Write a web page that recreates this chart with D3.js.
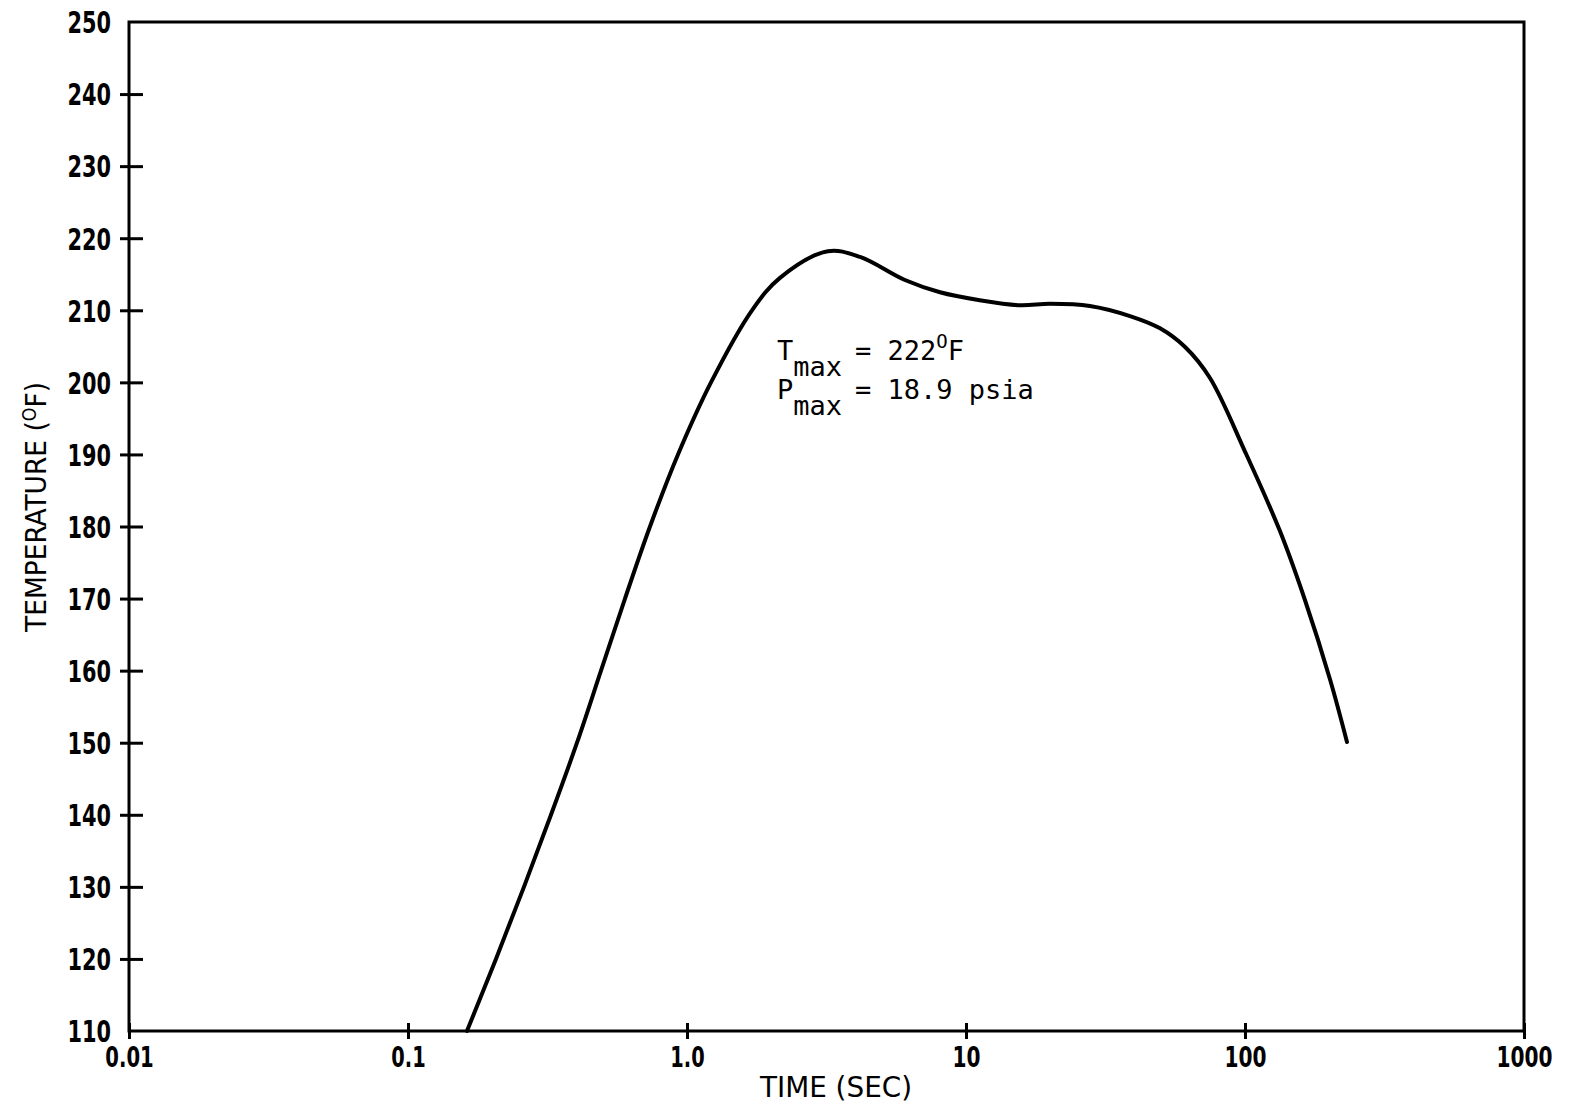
<!DOCTYPE html>
<html>
<head>
<meta charset="utf-8">
<script src="https://cdn.jsdelivr.net/npm/d3@7/dist/d3.min.js"></script>
<style>
  body { margin: 0; background: #fff; }
  svg text { fill: #000; }
</style>
</head>
<body>
<div id="chart"></div>
<script>
// Temperature history (time in seconds, temperature in deg F)
const timeSec = [0.1627, 0.2067, 0.2604, 0.3255, 0.4034, 0.4918, 0.5995, 0.7369, 0.9284, 1.219, 1.71, 2.154, 3.2, 4.17, 6.04, 8.07, 11.2, 15.6, 20.0, 27.8, 38.7, 49.6, 61.0, 74.9, 100, 133, 164, 202, 232];
const tempF   = [110, 120, 130, 140, 150, 160, 170, 180, 190, 200, 210, 214.5, 218.2, 217.4, 214.2, 212.5, 211.4, 210.7, 210.9, 210.6, 209.2, 207.5, 204.9, 200.6, 190.4, 179.5, 169.8, 158.7, 150.1];

const xTickValues = [0.01, 0.1, 1, 10, 100, 1000];
const xTickLabels = ['0.01', '0.1', '1.0', '10', '100', '1000'];
const yTickValues = [110, 120, 130, 140, 150, 160, 170, 180, 190, 200, 210, 220, 230, 240, 250];

const W = 1573, H = 1110;
const margin = { left: 129, top: 22, right: 49, bottom: 79 };
const innerW = W - margin.left - margin.right;
const innerH = H - margin.top - margin.bottom;

const tickFont = '"DejaVu Sans Condensed", "DejaVu Sans", sans-serif';
const monoFont = '"DejaVu Sans Mono", "Liberation Mono", monospace';

// narrow typewriter-like digits: squeeze text to a fixed width per character
const squeeze = (s, per) => s.replace('.', '').length * per + (s.includes('.') ? per * 0.45 : 0);

const svg = d3.select('#chart').append('svg')
  .attr('width', W).attr('height', H)
  .attr('viewBox', `0 0 ${W} ${H}`);

const g = svg.append('g').attr('transform', `translate(${margin.left},${margin.top})`);

const x = d3.scaleLog().domain([0.01, 1000]).range([0, innerW]);
const y = d3.scaleLinear().domain([110, 250]).range([innerH, 0]);

// Frame
g.append('rect')
  .attr('x', 0).attr('y', 0)
  .attr('width', innerW).attr('height', innerH)
  .attr('fill', 'none').attr('stroke', '#000').attr('stroke-width', 3);

// Y axis ticks (cross the left edge)
const yAxis = d3.axisLeft(y).tickValues(yTickValues).tickSize(0).tickFormat(d3.format('d'));
const yG = g.append('g').call(yAxis);
yG.select('.domain').remove();
yG.selectAll('.tick line')
  .attr('x1', -9).attr('x2', 14)
  .attr('stroke', '#000').attr('stroke-width', 3)
  .filter(d => d === 250 || d === 110).remove();
yG.selectAll('.tick text')
  .attr('x', -18).attr('dy', '0.36em')
  .attr('font-family', tickFont).attr('font-size', 30).attr('font-weight', 'bold')
  .attr('textLength', d => squeeze(String(d), 14.5))
  .attr('lengthAdjust', 'spacingAndGlyphs')
  .style('fill', '#000');

// X axis ticks (cross the bottom edge)
const xAxis = d3.axisBottom(x).tickValues(xTickValues).tickSize(0).tickFormat((d, i) => xTickLabels[i]);
const xG = g.append('g').attr('transform', `translate(0,${innerH})`).call(xAxis);
xG.select('.domain').remove();
xG.selectAll('.tick line')
  .attr('y1', -8).attr('y2', 8)
  .attr('stroke', '#000').attr('stroke-width', 3);
xG.selectAll('.tick text')
  .attr('y', 36).attr('dy', 0)
  .attr('text-anchor', 'middle')
  .attr('font-family', tickFont).attr('font-size', 28).attr('font-weight', 'bold')
  .attr('textLength', (d, i) => squeeze(xTickLabels[i], 14))
  .attr('lengthAdjust', 'spacingAndGlyphs')
  .style('fill', '#000');

// Curve
const line = d3.line()
  .x((d, i) => x(timeSec[i]))
  .y((d, i) => y(tempF[i]))
  .curve(d3.curveCatmullRom.alpha(0.5));

g.append('path')
  .datum(tempF)
  .attr('d', line)
  .attr('fill', 'none')
  .attr('stroke', '#000')
  .attr('stroke-width', 4)
  .attr('stroke-linejoin', 'round')
  .attr('stroke-linecap', 'round');

// Annotation
const ann = svg.append('g').attr('font-family', monoFont).attr('font-size', 27);
const t1 = ann.append('text').attr('x', 777).attr('y', 360);
t1.append('tspan').text('T');
t1.append('tspan').attr('dy', 16).text('max');
t1.append('tspan').attr('x', 855).attr('y', 360).text('= 222');
t1.append('tspan').attr('dy', -12).attr('font-size', 19).text('O');
t1.append('tspan').attr('dy', 12).text('F');

const t2 = ann.append('text').attr('x', 777).attr('y', 399);
t2.append('tspan').text('P');
t2.append('tspan').attr('dy', 16).text('max');
t2.append('tspan').attr('x', 855).attr('y', 399).text('= 18.9 psia');

// Axis titles
svg.append('text')
  .attr('x', 836).attr('y', 1097)
  .attr('text-anchor', 'middle')
  .attr('font-family', tickFont).attr('font-size', 28)
  .attr('textLength', 152).attr('lengthAdjust', 'spacingAndGlyphs')
  .text('TIME (SEC)');

const yt = svg.append('text')
  .attr('transform', 'translate(46,507) rotate(-90)')
  .attr('text-anchor', 'middle')
  .attr('font-family', tickFont).attr('font-size', 29)
  .attr('textLength', 250).attr('lengthAdjust', 'spacingAndGlyphs');
yt.append('tspan').text('TEMPERATURE (');
yt.append('tspan').attr('dy', -10).attr('font-size', 19).text('O');
yt.append('tspan').attr('dy', 10).text('F)');
</script>
</body>
</html>
